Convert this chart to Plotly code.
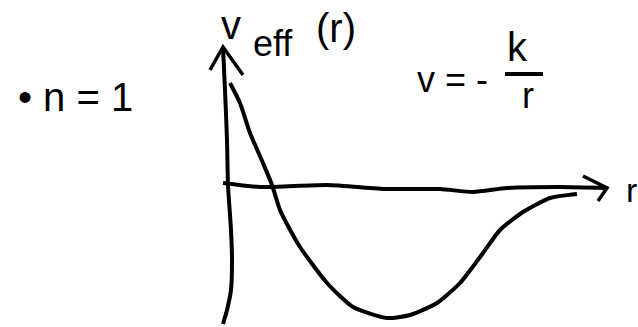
import plotly.graph_objects as go

# Effective potential sketch for n = 1 (V = -k/r), in arbitrary units
r_curve = [0.1, 0.6, 1.1, 1.75, 2.2, 2.6, 3.0, 3.6, 4.95, 6.25, 7.95, 9.1,
           10.45, 11.6, 12.75, 13.6, 14.75, 16.1, 17.45]
v_curve = [5.15, 4.15, 2.65, 1.15, 0.05, -1.2, -2.0, -3.05, -4.85, -6.05, -6.6,
           -6.45, -5.85, -4.85, -3.35, -2.2, -1.3, -0.6, -0.4]

# Hand-drawn axes
vaxis_r = [-0.25, -0.15, -0.05, 0.0, 0.15, 0.2, 0.15, -0.05, -0.25]
vaxis_v = [6.9, 4.8, 2.3, 0.05, -2.2, -3.7, -5.2, -6.2, -6.9]
haxis_r = [-0.25, 1.6, 4.95, 7.95, 10.6, 12.25, 13.95, 16.6, 18.95]
haxis_v = [0.15, -0.05, 0.05, -0.15, -0.15, -0.3, -0.1, -0.05, -0.1]

# Arrowheads
top_arrow_r = [-0.9, -0.25, 0.75]
top_arrow_v = [5.8, 6.95, 5.55]
right_arrow_r = [17.75, 18.95, 18.5]
right_arrow_v = [0.5, -0.1, -0.75]

INK = "#000000"
FONT = "Liberation Sans"
W, H = 638, 327

fig = go.Figure()

def stroke(x, y, width=3.5, smooth=True):
    fig.add_trace(go.Scatter(
        x=x, y=y, mode="lines",
        line=dict(color=INK, width=width,
                  shape="spline" if smooth else "linear",
                  smoothing=0.6 if smooth else 0),
        hoverinfo="skip", showlegend=False))

stroke(vaxis_r, vaxis_v, 4)
stroke(haxis_r, haxis_v, 4)
stroke(top_arrow_r, top_arrow_v, 3.5, smooth=False)
stroke(right_arrow_r, right_arrow_v, 3.5, smooth=False)
stroke(r_curve, v_curve, 4)

def label(text, px, py, size):
    fig.add_annotation(
        x=px / W, y=1 - py / H, xref="paper", yref="paper",
        text=text, showarrow=False,
        font=dict(family=FONT, size=size, color=INK),
        xanchor="center", yanchor="middle")

# Axis labels
label("v", 231, 25, 40)
label("eff", 273, 44, 36)
label("(r)", 336, 28, 40)
label("r", 631, 190, 34)

# n = 1
label("• n = 1", 75, 97, 40)

# V = -k/r
label("v = -", 452, 79, 36)
label("k", 517, 47, 40)
label("r", 528, 95, 36)
fig.add_shape(type="line", xref="paper", yref="paper",
              x0=505 / W, x1=543 / W, y0=1 - 74 / H, y1=1 - 74 / H,
              line=dict(color=INK, width=4))

fig.update_layout(
    width=W, height=H,
    margin=dict(l=0, r=0, t=0, b=0),
    paper_bgcolor="white", plot_bgcolor="white",
    xaxis=dict(range=[-228 / 20, 410 / 20], visible=False, fixedrange=True),
    yaxis=dict(range=[-141 / 20, 186 / 20], visible=False, fixedrange=True),
)

fig.write_html("out.html")
